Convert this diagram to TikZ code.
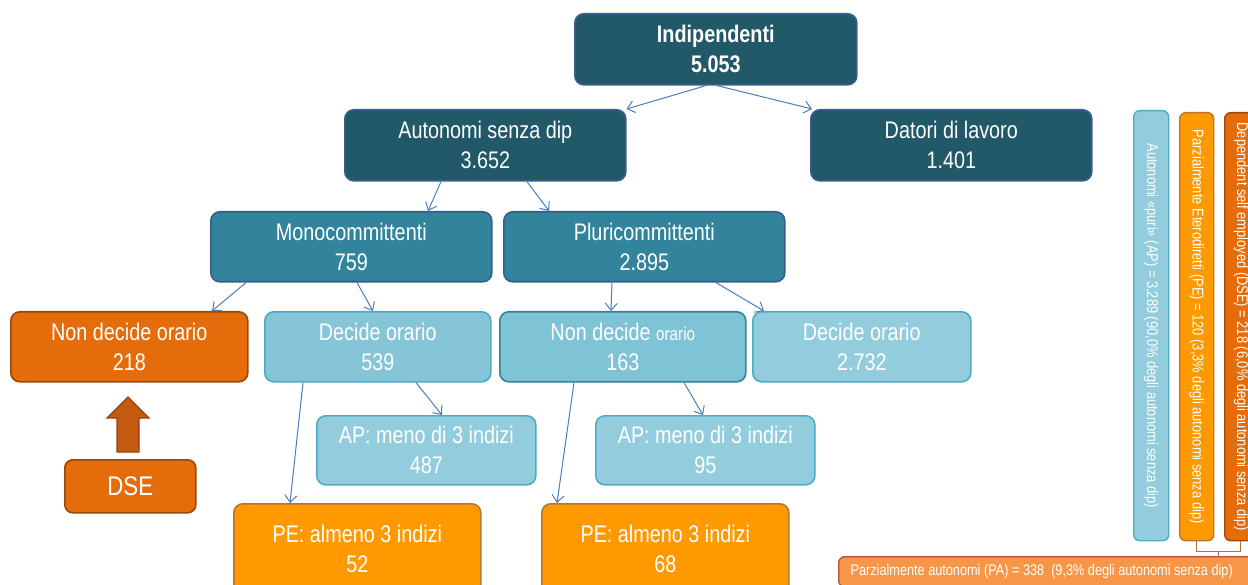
\documentclass[tikz,border=0pt]{standalone}
\usepackage{fontspec}
\setmainfont{Liberation Sans}[FakeStretch=0.825]
\usetikzlibrary{arrows.meta,calc}
\definecolor{darkteal}{HTML}{215968}
\definecolor{darktealb}{HTML}{3B5E8C}
\definecolor{midteal}{HTML}{31849B}
\definecolor{midtealb}{HTML}{385D8A}
\definecolor{lightblue}{HTML}{93CDDD}
\definecolor{lightblue2}{HTML}{86C5D8}
\definecolor{lightblue3}{HTML}{7FC3D6}
\definecolor{lightblueb}{HTML}{4BACC6}
\definecolor{deeporange}{HTML}{E46C0A}
\definecolor{deeporangeb}{HTML}{984807}
\definecolor{peorange}{HTML}{FF9900}
\definecolor{peorangeb}{HTML}{B9742F}
\definecolor{paorange}{HTML}{F79646}
\definecolor{paorangeb}{HTML}{B5533C}
\definecolor{arrowblue}{HTML}{4A7EBB}
\definecolor{fatarrow}{HTML}{C55A11}
\definecolor{fatarrowb}{HTML}{8B4513}
\definecolor{bracketc}{HTML}{B07040}
\begin{document}
\begin{tikzpicture}[x=1pt,y=1pt,
  box/.style={rounded corners=9pt, line width=1.6pt, anchor=north west, inner sep=0pt,
    align=center, text=white, font=\fontsize{24}{30}\selectfont},
  dark/.style={box, fill=darkteal, draw=darktealb},
  mid/.style={box, fill=midteal, draw=midtealb},
  light/.style={box, fill=lightblue, draw=lightblueb},
  orangebox/.style={box, fill=deeporange, draw=deeporangeb},
  pebox/.style={box, fill=peorange, draw=peorangeb},
  bar/.style={rounded corners=6pt, line width=1.4pt, anchor=north west, inner sep=0pt, text=white},
  bartext/.style={rotate=-90, text=white, font=\fontsize{15.6}{18}\selectfont},
  conn/.style={draw=arrowblue, line width=1pt, -{Straight Barb[length=7pt,width=12pt]}}]
\useasboundingbox (0,0) rectangle (1248,-585);

% main tree
\node[dark, minimum width=282, minimum height=71] (indip) at (574,-13) {\bfseries Indipendenti\\\bfseries 5.053};
\node[dark, minimum width=281, minimum height=71] (auton) at (344,-109) {Autonomi senza dip\\3.652};
\node[dark, minimum width=281, minimum height=71] (datori) at (810,-109) {Datori di lavoro\\1.401};
\node[mid, minimum width=281, minimum height=70] (mono) at (210,-211) {Monocommittenti\\759};
\node[mid, minimum width=281, minimum height=70] (pluri) at (503,-211) {Pluricommittenti\\2.895};
\node[orangebox, minimum width=237, minimum height=70] (nd1) at (10,-311) {Non decide orario\\218};
\node[light, fill=lightblue2, minimum width=226, minimum height=70] (d1) at (264,-311) {Decide orario\\539};
\node[light, fill=lightblue3, draw=midteal, minimum width=246, minimum height=70] (nd2) at (499,-311) {Non decide {\fontsize{18.5}{20}\selectfont orario}\\163};
\node[light, minimum width=218, minimum height=70] (d2) at (752,-311) {Decide orario\\2.732};
\node[light, minimum width=219, minimum height=69] (ap1) at (316,-415) {AP: meno di 3 indizi\\487};
\node[light, minimum width=219, minimum height=69] (ap2) at (595,-415) {AP: meno di 3 indizi\\95};
\node[pebox, minimum width=247, minimum height=90] (pe1) at (233,-503) {PE: almeno 3 indizi\\52};
\node[pebox, minimum width=247, minimum height=90] (pe2) at (541,-503) {PE: almeno 3 indizi\\68};
\node[orangebox, minimum width=131, minimum height=53, rounded corners=8pt] (dse) at (64,-459) {\fontsize{27}{30}\selectfont DSE};

% fat arrow DSE -> Non decide orario
\filldraw[fill=fatarrow, draw=fatarrowb, line width=1.4pt]
  (117,-452) -- (117,-418) -- (107,-418) -- (128,-397) -- (149,-418) -- (139,-418) -- (139,-452) -- cycle;

% connectors
\draw[conn] ($(indip.south west)+(132,0)$) -- (auton.north east);
\draw[conn] ($(indip.south west)+(143,0)$) -- ($(datori.north west)+(2,0)$);
\draw[conn] ($(auton.south west)+(97,0)$) -- ($(mono.north west)+(218,0)$);
\draw[conn] ($(auton.south west)+(183,0)$) -- ($(pluri.north west)+(46,0)$);
\draw[conn] ($(mono.south west)+(36,0)$) -- ($(nd1.north west)+(202,0)$);
\draw[conn] ($(mono.south west)+(147,0)$) -- ($(d1.north west)+(109,0)$);
\draw[conn] ($(pluri.south west)+(109,0)$) -- ($(nd2.north west)+(112,0)$);
\draw[conn] ($(pluri.south west)+(213,0)$) -- ($(d2.north west)+(12,0)$);
\draw[conn] ($(d1.south west)+(39,0)$) -- ($(pe1.north west)+(57,0)$);
\draw[conn] ($(d1.south west)+(152,0)$) -- ($(ap1.north west)+(126,0)$);
\draw[conn] ($(nd2.south west)+(75,0)$) -- ($(pe2.north west)+(16,0)$);
\draw[conn] ($(nd2.south west)+(185,0)$) -- ($(ap2.north west)+(108,0)$);

% right legend bars
\node[bar, fill=lightblue, draw=lightblueb, minimum width=35, minimum height=430] (apbar) at (1133,-110) {};
\node[bartext] at (apbar.center) {Autonomi «puri» (AP) = 3.289 (90,0\% degli autonomi senza dip)};
\node[bar, fill=peorange, draw=peorangeb, minimum width=34, minimum height=428] (pebar) at (1179,-112) {};
\node[bartext] at (pebar.center) {Parzialmente Eterodiretti (PE) = 120 (3,3\% degli autonomi senza dip)};
\node[bar, fill=deeporange, draw=deeporangeb, minimum width=31, minimum height=428] (dsebar) at (1224,-112) {};
\node[bartext] at ($(dsebar.center)+(1,0)$) {Dependent self employed (DSE) = 218 (6,0\% degli autonomi senza dip)};

\node[bar, fill=paorange, draw=paorangeb, minimum width=420, minimum height=30] (pabar) at (838,-556)
  {\fontsize{15.4}{17}\selectfont\hspace*{-14pt}Parzialmente autonomi (PA) = 338\ \ (9,3\% degli autonomi senza dip)};

% bracket
\coordinate (brl) at ($(pebar.south)+(0,-10)$);
\coordinate (brmid) at ($(pebar.south)!0.5!(dsebar.south)+(0,-10)$);
\draw[draw=bracketc, line width=1.2pt] (pebar.south) -- (brl) -| (dsebar.south);
\draw[draw=bracketc, line width=1.2pt] (brmid) -- (brmid |- pabar.north);
\end{tikzpicture}
\end{document}
